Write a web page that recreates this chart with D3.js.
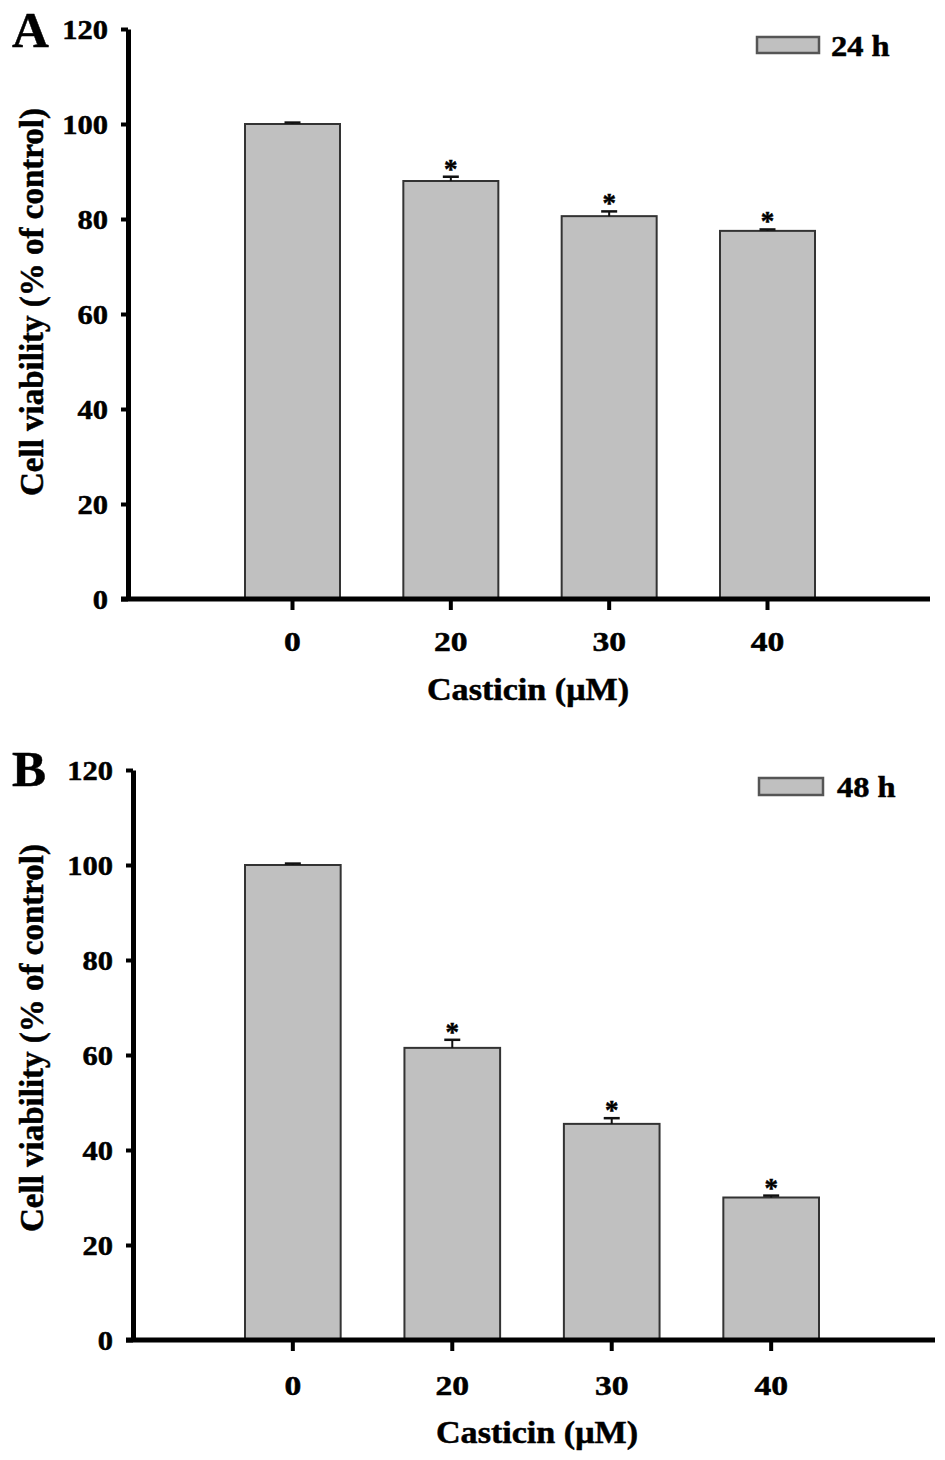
<!DOCTYPE html>
<html>
<head>
<meta charset="utf-8">
<script src="https://cdn.jsdelivr.net/npm/d3@7"></script>
<style>
  html, body { margin: 0; padding: 0; background: #fff; }
  svg { display: block; }
  text { font-family: "Liberation Serif", "Times New Roman", serif; font-weight: bold; fill: #000; stroke: #000; stroke-width: 0.5px; }
</style>
</head>
<body>
<svg id="chart" width="945" height="1460"></svg>
<script>
// ---- data ----
const categories = ["0", "20", "30", "40"];
const yTicks = [0, 20, 40, 60, 80, 100, 120];
const values24h = [100, 88.0, 80.6, 77.5];
const errors24h = [0.3, 0.9, 1.0, 0.3];
const signif24h = [false, true, true, true];
const values48h = [100, 61.5, 45.5, 30.0];
const errors48h = [0.3, 1.7, 1.2, 0.4];
const signif48h = [false, true, true, true];
const panelLetters = ["A", "B"];
const legendLabels = ["24 h", "48 h"];
const xTitle = "Casticin (\u03BCM)";
const yTitle = "Cell viability (% of control)";

const svg = d3.select("#chart");

const panels = [
  { letter: panelLetters[0], legend: legendLabels[0], values: values24h, errors: errors24h, signif: signif24h,
    axisX: 128, top: 29, bottom: 599, right: 930, band: [245, 815],
    letterPos: [12, 47], legendRect: [757, 37, 62, 16], legendText: [831, 56],
    tickLabelY: 651, titleY: 700, titleX: 528, yTitleMid: 302 },
  { letter: panelLetters[1], legend: legendLabels[1], values: values48h, errors: errors48h, signif: signif48h,
    axisX: 133, top: 770, bottom: 1340, right: 935, band: [245, 819],
    letterPos: [12, 786], legendRect: [759, 778, 64, 17], legendText: [837, 797],
    tickLabelY: 1395, titleY: 1443, titleX: 537, yTitleMid: 1038 }
];

panels.forEach(p => {
  const g = svg.append("g");
  const y = d3.scaleLinear().domain([0, 120]).range([p.bottom, p.top]);
  const x = d3.scaleBand().domain(categories).range(p.band).paddingInner(0.4).paddingOuter(0);
  const cx = i => x(categories[i]) + x.bandwidth() / 2;

  // bars
  g.selectAll("rect.bar").data(p.values).enter().append("rect")
    .attr("class", "bar")
    .attr("x", (d, i) => x(categories[i]))
    .attr("y", d => y(d))
    .attr("width", x.bandwidth())
    .attr("height", d => y(0) - y(d))
    .attr("fill", "#c0c0c0")
    .attr("stroke", "#333")
    .attr("stroke-width", 2);

  // error bars (upper only)
  const eb = g.selectAll("g.err").data(p.values).enter().append("g").attr("class", "err");
  eb.append("line")
    .attr("x1", (d, i) => cx(i)).attr("x2", (d, i) => cx(i))
    .attr("y1", d => y(d))
    .attr("y2", (d, i) => y(d + p.errors[i]))
    .attr("stroke", "#111").attr("stroke-width", 2);
  eb.append("line")
    .attr("x1", (d, i) => cx(i) - 8).attr("x2", (d, i) => cx(i) + 8)
    .attr("y1", (d, i) => y(d + p.errors[i]))
    .attr("y2", (d, i) => y(d + p.errors[i]))
    .attr("stroke", "#111").attr("stroke-width", 2.5);

  // asterisks
  p.values.forEach((d, i) => {
    if (!p.signif[i]) return;
    g.append("text")
      .attr("x", cx(i))
      .attr("y", y(d + p.errors[i]) + 1)
      .attr("text-anchor", "middle")
      .attr("font-size", 27)
      .text("*");
  });

  // y axis
  const yAxis = d3.axisLeft(y).tickValues(yTicks).tickSize(7).tickSizeOuter(0).tickPadding(13);
  const ya = g.append("g").attr("transform", `translate(${p.axisX},0)`).call(yAxis);
  ya.select(".domain").attr("stroke", "#000").attr("stroke-width", 5);
  ya.selectAll(".tick line").attr("stroke", "#000").attr("stroke-width", 4);
  ya.selectAll(".tick text")
    .attr("font-size", 27).attr("font-family", "Liberation Serif").attr("font-weight", "bold").attr("fill", "#000")
    .attr("x", null).attr("dy", "0.36em")
    .attr("transform", "translate(-20,0) scale(1.13,1)");

  // x axis baseline
  g.append("line")
    .attr("x1", p.axisX - 7).attr("x2", p.right)
    .attr("y1", y(0)).attr("y2", y(0))
    .attr("stroke", "#000").attr("stroke-width", 5);

  // x axis ticks and labels
  const xAxis = d3.axisBottom(x).tickSize(11).tickSizeOuter(0).tickPadding(30);
  const xa = g.append("g").attr("transform", `translate(0,${y(0)})`).call(xAxis);
  xa.select(".domain").remove();
  xa.selectAll(".tick line").attr("stroke", "#000").attr("stroke-width", 4);
  xa.selectAll(".tick text").attr("font-size", 28).attr("font-family", "Liberation Serif").attr("font-weight", "bold").attr("fill", "#000")
    .attr("y", null).attr("dy", null)
    .attr("transform", `translate(0,${p.tickLabelY - y(0)}) scale(1.2,1)`);

  // x title
  g.append("text").attr("transform", `translate(${p.titleX},${p.titleY}) scale(1.1,1)`).attr("text-anchor", "middle")
    .attr("font-size", 31).text(xTitle);
  // y title
  g.append("text").attr("transform", `translate(43,${p.yTitleMid}) rotate(-90)`).attr("text-anchor", "middle")
    .attr("font-size", 33).text(yTitle);

  // panel letter
  g.append("text").attr("x", p.letterPos[0]).attr("y", p.letterPos[1]).attr("font-size", 51).text(p.letter);

  // legend
  g.append("rect").attr("x", p.legendRect[0]).attr("y", p.legendRect[1])
    .attr("width", p.legendRect[2]).attr("height", p.legendRect[3])
    .attr("fill", "#c0c0c0").attr("stroke", "#555").attr("stroke-width", 2.5);
  g.append("text").attr("transform", `translate(${p.legendText[0]},${p.legendText[1]}) scale(1.12,1)`)
    .attr("font-size", 29).text(p.legend);
});
</script>
</body>
</html>
